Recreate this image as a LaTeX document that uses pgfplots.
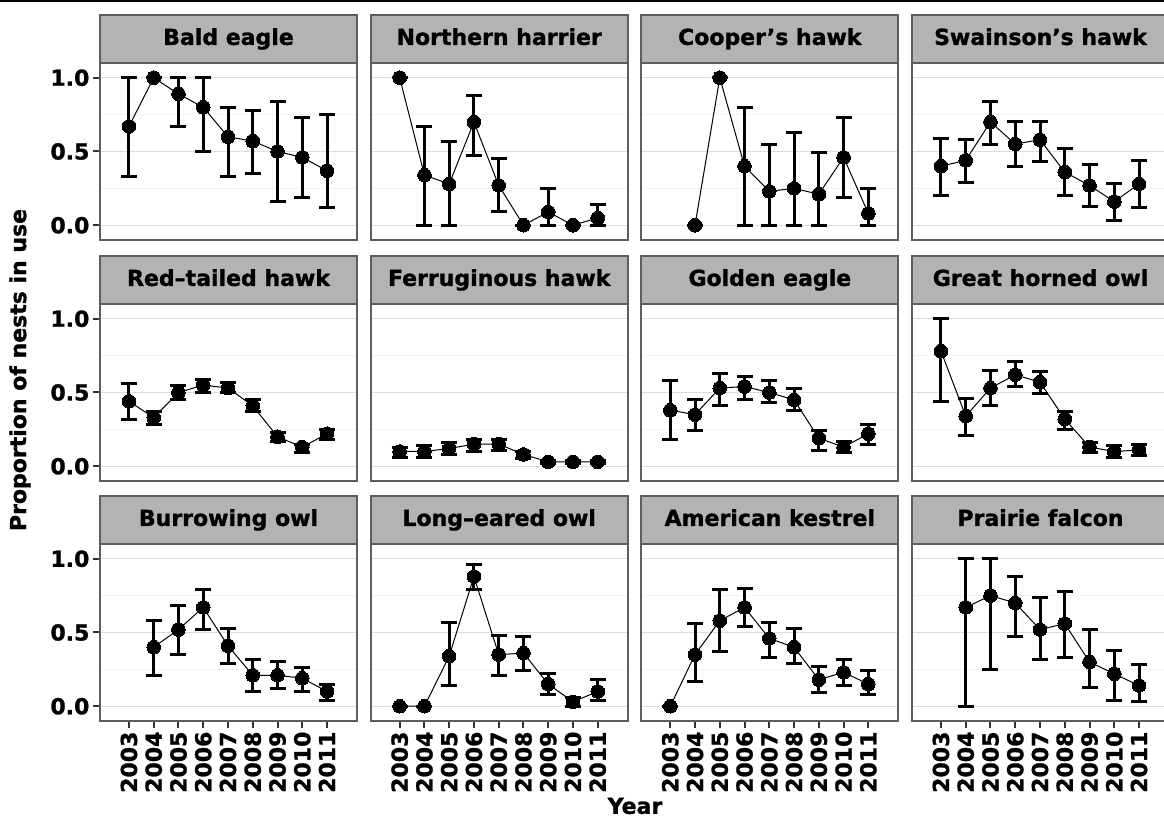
\documentclass[border=0pt]{standalone}
\usepackage{fontspec}
\setmainfont{DejaVu Sans}[BoldFeatures={FakeBold=1.2}]
\usepackage{pgfplots}
\usepackage{pgfplotstable}
\pgfplotsset{compat=1.18}
\definecolor{stripgray}{HTML}{B3B3B3}
\definecolor{bordergray}{HTML}{5E5E5E}
\definecolor{gridmaj}{HTML}{DCDCDC}
\definecolor{gridmin}{HTML}{F2F2F2}
\definecolor{tickgray}{HTML}{333333}
\newcommand{\ffont}{\fontsize{11}{13}\selectfont\bfseries}

\pgfplotstableread{
x y lo hi
2003 0.67 0.33 1.00
2004 1.00 1.00 1.00
2005 0.89 0.67 1.00
2006 0.80 0.50 1.00
2007 0.60 0.33 0.80
2008 0.57 0.35 0.78
2009 0.50 0.16 0.84
2010 0.46 0.19 0.73
2011 0.37 0.12 0.75
}\bald
\pgfplotstableread{
x y lo hi
2003 1.00 1.00 1.00
2004 0.34 0.00 0.67
2005 0.28 0.00 0.57
2006 0.70 0.47 0.88
2007 0.27 0.09 0.45
2008 0.00 0.00 0.00
2009 0.09 0.00 0.25
2010 0.00 0.00 0.00
2011 0.05 0.00 0.14
}\harrier
\pgfplotstableread{
x y lo hi
2004 0.00 0.00 0.00
2005 1.00 1.00 1.00
2006 0.40 0.00 0.80
2007 0.23 0.00 0.55
2008 0.25 0.00 0.63
2009 0.21 0.00 0.49
2010 0.46 0.19 0.73
2011 0.08 0.00 0.25
}\cooper
\pgfplotstableread{
x y lo hi
2003 0.40 0.20 0.59
2004 0.44 0.29 0.58
2005 0.70 0.55 0.84
2006 0.55 0.40 0.70
2007 0.58 0.43 0.70
2008 0.36 0.20 0.52
2009 0.27 0.13 0.41
2010 0.16 0.03 0.28
2011 0.28 0.12 0.44
}\swainson
\pgfplotstableread{
x y lo hi
2003 0.44 0.32 0.56
2004 0.33 0.28 0.37
2005 0.50 0.45 0.55
2006 0.55 0.50 0.59
2007 0.53 0.50 0.57
2008 0.41 0.37 0.45
2009 0.20 0.17 0.23
2010 0.13 0.09 0.15
2011 0.22 0.18 0.25
}\redtail
\pgfplotstableread{
x y lo hi
2003 0.10 0.06 0.13
2004 0.10 0.06 0.14
2005 0.12 0.08 0.16
2006 0.15 0.10 0.18
2007 0.15 0.11 0.18
2008 0.08 0.05 0.10
2009 0.03 0.02 0.04
2010 0.03 0.02 0.04
2011 0.03 0.02 0.04
}\ferrug
\pgfplotstableread{
x y lo hi
2003 0.38 0.18 0.58
2004 0.35 0.24 0.45
2005 0.53 0.41 0.63
2006 0.54 0.45 0.61
2007 0.50 0.43 0.58
2008 0.45 0.38 0.53
2009 0.19 0.11 0.24
2010 0.13 0.09 0.17
2011 0.22 0.15 0.28
}\golden
\pgfplotstableread{
x y lo hi
2003 0.78 0.44 1.00
2004 0.34 0.21 0.46
2005 0.53 0.41 0.65
2006 0.62 0.54 0.71
2007 0.57 0.49 0.64
2008 0.32 0.25 0.37
2009 0.13 0.09 0.16
2010 0.10 0.06 0.14
2011 0.11 0.07 0.15
}\horned
\pgfplotstableread{
x y lo hi
2004 0.40 0.21 0.58
2005 0.52 0.35 0.68
2006 0.67 0.52 0.79
2007 0.41 0.29 0.53
2008 0.21 0.10 0.32
2009 0.21 0.12 0.30
2010 0.19 0.10 0.26
2011 0.10 0.04 0.15
}\burrow
\pgfplotstableread{
x y lo hi
2003 0.00 0.00 0.00
2004 0.00 0.00 0.00
2005 0.34 0.14 0.57
2006 0.88 0.79 0.96
2007 0.35 0.21 0.48
2008 0.36 0.24 0.47
2009 0.15 0.08 0.22
2010 0.03 0.00 0.06
2011 0.10 0.04 0.18
}\longeared
\pgfplotstableread{
x y lo hi
2003 0.00 0.00 0.00
2004 0.35 0.17 0.56
2005 0.58 0.37 0.79
2006 0.67 0.54 0.80
2007 0.46 0.33 0.57
2008 0.40 0.29 0.53
2009 0.18 0.09 0.27
2010 0.23 0.14 0.32
2011 0.15 0.08 0.24
}\kestrel
\pgfplotstableread{
x y lo hi
2004 0.67 0.00 1.00
2005 0.75 0.25 1.00
2006 0.70 0.47 0.88
2007 0.52 0.32 0.74
2008 0.56 0.33 0.78
2009 0.30 0.13 0.52
2010 0.22 0.04 0.38
2011 0.14 0.03 0.28
}\prairie

\pgfplotsset{
  every axis title/.style={at={(0.5,1)}, anchor=south, fill=stripgray,
    draw=bordergray, line width=1pt, minimum width=128.5pt,
    minimum height=24pt, inner sep=0pt, outer sep=0pt,
    text height=8.2pt, text depth=2.3pt, font=\ffont},
  panel/.style={scale only axis, width=128.5pt, height=88.5pt,
    xmin=2001.83, xmax=2012.21, ymin=-0.1, ymax=1.1,
    ytick={0,0.5,1}, minor ytick={0.25,0.75},
    ymajorgrids, yminorgrids,
    major grid style={draw=gridmaj, line width=0.6pt},
    minor grid style={draw=gridmin, line width=0.6pt},
    axis line style={draw=bordergray, line width=1pt},
    tick align=outside, major tick length=3.6pt, minor tick length=0pt,
    xtick={2003,2004,2005,2006,2007,2008,2009,2010,2011},
    xticklabels={}, yticklabels={},
    xtick style={draw=none}, ytick style={draw=none},
    xtick pos=bottom, ytick pos=left,
    tick label style={font=\ffont, text=black}},
  leftcol/.style={yticklabels={0.0,0.5,1.0},
    ytick style={draw=tickgray, line width=1pt},
    yticklabel style={inner sep=1.5pt}},
  bottomrow/.style={xticklabels={2003,2004,2005,2006,2007,2008,2009,2010,2011},
    xtick style={draw=tickgray, line width=1pt},
    xticklabel style={rotate=90, anchor=east, inner sep=1.5pt}},
  series/.style={color=black, line width=0.5pt, mark=*, mark size=3.4pt,
    mark options={fill=black, draw=black, line width=0pt},
    error bars/.cd, y dir=both, y explicit, error mark=-,
    error bar style={line width=1.5pt, black},
    error mark options={rotate=90, line width=1.5pt, mark size=4pt, black}}
}

\newcommand{\panel}[4]{%
  \begin{axis}[panel, at={#1}, anchor=south west, title={#2}, #3]
    \addplot[series] table[x=x, y=y,
      y error plus expr=\thisrow{hi}-\thisrow{y},
      y error minus expr=\thisrow{y}-\thisrow{lo}] {#4};
  \end{axis}}

\begin{document}
\begin{tikzpicture}
\panel{(50pt,289.5pt)}{Bald eagle}{leftcol}{\bald}
\panel{(185.35pt,289.5pt)}{Northern harrier}{}{\harrier}
\panel{(320.65pt,289.5pt)}{Cooper’s hawk}{}{\cooper}
\panel{(456pt,289.5pt)}{Swainson’s hawk}{}{\swainson}
\panel{(50pt,169pt)}{Red–tailed hawk}{leftcol}{\redtail}
\panel{(185.35pt,169pt)}{Ferruginous hawk}{}{\ferrug}
\panel{(320.65pt,169pt)}{Golden eagle}{}{\golden}
\panel{(456pt,169pt)}{Great horned owl}{}{\horned}
\panel{(50pt,49pt)}{Burrowing owl}{leftcol,bottomrow}{\burrow}
\panel{(185.35pt,49pt)}{Long–eared owl}{bottomrow}{\longeared}
\panel{(320.65pt,49pt)}{American kestrel}{bottomrow}{\kestrel}
\panel{(456pt,49pt)}{Prairie falcon}{bottomrow}{\prairie}
\node[rotate=90, font=\ffont] at (10pt,224.5pt) {Proportion of nests in use};
\node[font=\ffont] at (317.5pt,6.5pt) {Year};
\draw[black, line width=0.8pt] (0pt,408.9pt) -- (582pt,408.9pt);
\pgfresetboundingbox
\path[use as bounding box] (0pt,0pt) rectangle (582pt,409.5pt);
\end{tikzpicture}
\end{document}
